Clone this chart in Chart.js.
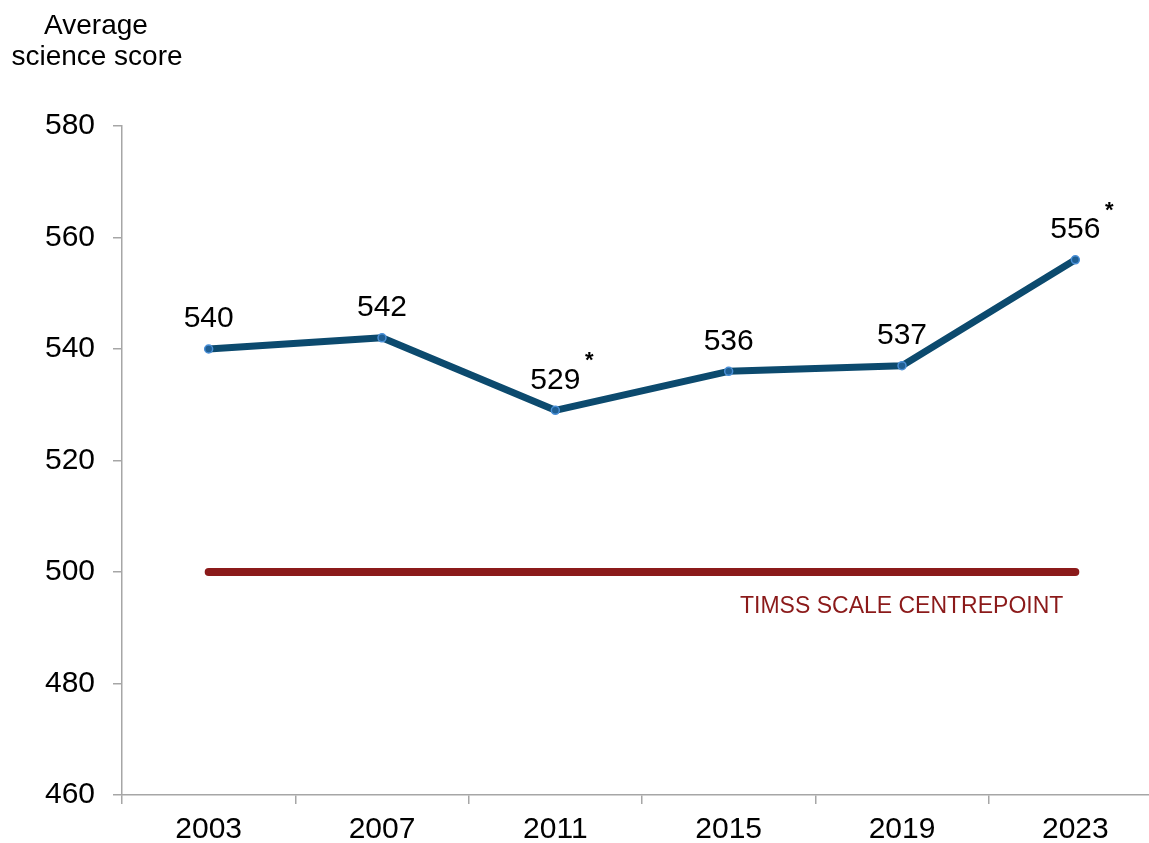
<!DOCTYPE html>
<html>
<head>
<meta charset="utf-8">
<script src="https://cdn.jsdelivr.net/npm/chart.js@4.4.1/dist/chart.umd.min.js"></script>
<style>
html,body{margin:0;padding:0;background:#fff;overflow:hidden;}
#wrap{position:absolute;left:0;top:0;width:1170px;height:843px;}
</style>
</head>
<body>
<div id="wrap"><canvas id="c" width="1170" height="843"></canvas></div>
<script>
const years = ['2003','2007','2011','2015','2019','2023'];
const scores = [540, 542, 529, 536, 537, 556];
const significant = [false, false, true, false, false, true];
const centrepoint = [500, 500, 500, 500, 500, 500];
const yTicks = [460, 480, 500, 520, 540, 560, 580];
const axisTitle = ['Average', 'science score'];
const centreLabel = 'TIMSS SCALE CENTREPOINT';

const FONT = "'Liberation Sans', Arial, sans-serif";

const labelPlugin = {
  id: 'labels',
  afterDatasetsDraw(chart) {
    const ctx = chart.ctx;
    const meta = chart.getDatasetMeta(1);
    ctx.save();
    ctx.fillStyle = '#000';
    ctx.textAlign = 'center';
    ctx.textBaseline = 'middle';
    meta.data.forEach((p, i) => {
      const txt = String(scores[i]);
      ctx.font = '30px ' + FONT;
      const w = ctx.measureText(txt).width;
      const ly = p.y - 30;
      ctx.fillText(txt, p.x, ly);
      if (significant[i]) {
        ctx.font = 'bold 22px ' + FONT;
        ctx.fillText('*', p.x + w / 2 + 9, ly - 19);
      }
    });
    const xs = chart.scales.x, ys = chart.scales.y;
    ctx.fillStyle = '#8B1A1A';
    ctx.font = '23px ' + FONT;
    ctx.textAlign = 'right';
    ctx.fillText(centreLabel, xs.getPixelForValue(years.length - 1) - 12, ys.getPixelForValue(centrepoint[0]) + 35);
    ctx.fillStyle = '#000';
    ctx.font = '28px ' + FONT;
    ctx.textAlign = 'center';
    ctx.fillText(axisTitle[0], 96, 26);
    ctx.fillText(axisTitle[1], 97, 57);
    ctx.restore();
  }
};

new Chart(document.getElementById('c'), {
  type: 'line',
  data: {
    labels: years,
    datasets: [
      {
        data: centrepoint,
        borderColor: '#8B1A1A',
        borderWidth: 8,
        borderCapStyle: 'round',
        pointRadius: 0,
        order: 2
      },
      {
        data: scores,
        borderColor: '#0C4A6E',
        borderWidth: 7,
        borderJoinStyle: 'round',
        pointRadius: 4,
        pointBackgroundColor: '#1F5F94',
        pointBorderColor: '#4A8FD6',
        pointBorderWidth: 1.5,
        tension: 0,
        order: 1
      }
    ]
  },
  options: {
    responsive: false,
    animation: false,
    layout: { padding: { top: 126, right: 8, left: 0, bottom: 0 } },
    plugins: { legend: { display: false }, tooltip: { enabled: false } },
    scales: {
      x: {
        type: 'category',
        offset: true,
        grid: { offset: true, drawOnChartArea: false, color: '#A6A6A6', lineWidth: 1.5, tickLength: 9 },
        border: { display: true, color: '#A6A6A6', width: 1.5 },
        ticks: { color: '#000', font: { family: FONT, size: 30 }, padding: 8, maxRotation: 0 },
        afterFit(s) { s.height = 48; }
      },
      y: {
        min: 460, max: 580,
        afterBuildTicks(s) { s.ticks = yTicks.map(v => ({ value: v })); },
        grid: { drawOnChartArea: false, color: '#A6A6A6', lineWidth: 1.5, tickLength: 9 },
        border: { display: true, color: '#A6A6A6', width: 1.5 },
        ticks: { color: '#000', font: { family: FONT, size: 30 }, padding: 18 },
        afterFit(s) { s.width = 122; }
      }
    }
  },
  plugins: [labelPlugin]
});
</script>
</body>
</html>
